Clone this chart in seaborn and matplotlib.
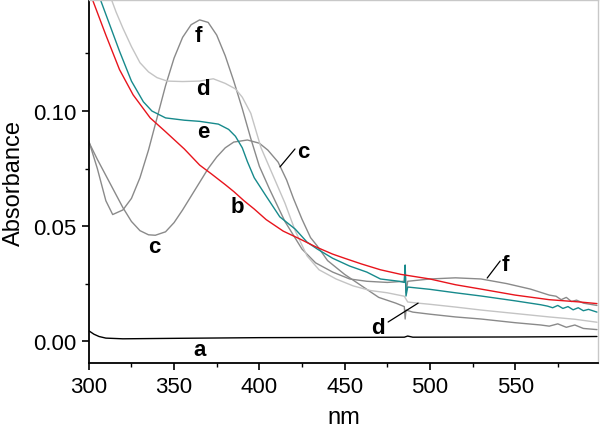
import numpy as np
import pandas as pd
import matplotlib
matplotlib.use("Agg")
import matplotlib.pyplot as plt
from matplotlib.ticker import MultipleLocator
import seaborn as sns

# spectra (wavelength nm, absorbance)
a_nm = [300, 303, 306, 310, 320, 350, 400, 450, 485, 487, 490, 550, 598]
a_abs = [0.0045, 0.003, 0.002, 0.0013, 0.001, 0.0012, 0.0015, 0.0016, 0.0017, 0.0022, 0.0017, 0.0018, 0.002]

b_nm = [300, 302, 310, 318, 326, 336, 345, 356, 365, 372, 380, 385, 391, 397, 404, 414, 424,
        433, 443, 450, 460, 471, 483, 500, 515, 530, 550, 570, 588, 598]
b_abs = [0.152, 0.1487, 0.133, 0.118, 0.107, 0.097, 0.091, 0.0835, 0.0765, 0.0726, 0.068, 0.065,
         0.061, 0.0574, 0.0528, 0.0478, 0.0443, 0.041, 0.0378, 0.036, 0.0335, 0.031, 0.029,
         0.027, 0.0245, 0.0226, 0.020, 0.018, 0.017, 0.0163]

c_nm = [300, 305, 310, 315, 320, 325, 330, 335, 339, 345, 350, 355, 360, 365, 370, 375, 380,
        385, 393, 400, 405, 411, 416, 420, 425, 430, 434, 440, 450, 460, 470, 480, 485, 485.5,
        486, 490, 500, 515, 530, 550, 565, 570, 575, 580, 585, 590, 598]
c_abs = [0.0865, 0.079, 0.072, 0.065, 0.058, 0.052, 0.048, 0.0462, 0.046, 0.0475, 0.0515,
         0.057, 0.063, 0.069, 0.075, 0.080, 0.084, 0.0865, 0.0874, 0.086, 0.083, 0.0778, 0.070,
         0.062, 0.053, 0.045, 0.0413, 0.035, 0.029, 0.024, 0.019, 0.0165, 0.015, 0.0096, 0.0135,
         0.0126, 0.0117, 0.0105, 0.0096, 0.008, 0.007, 0.0065, 0.0075, 0.006, 0.007, 0.0055, 0.005]

d_nm = [311, 313, 316, 320, 325, 330, 335, 340, 346, 355, 365, 373, 380, 386, 390, 395, 401, 408,
        415, 421, 428, 435, 445, 455, 465, 475, 485, 487, 493, 500, 515, 530, 550, 570, 585, 598]
d_abs = [0.152, 0.149, 0.143, 0.136, 0.128, 0.121, 0.117, 0.1145, 0.113, 0.1128, 0.113, 0.114,
         0.112, 0.1096, 0.106, 0.099, 0.084, 0.072, 0.060, 0.048, 0.037, 0.031, 0.027, 0.024,
         0.022, 0.021, 0.0195, 0.017, 0.0165, 0.016, 0.0148, 0.0135, 0.012, 0.0105, 0.0095, 0.0082]

e_nm = [305, 306.5, 312, 318, 325, 332, 337, 345, 356, 365, 376, 382, 386, 390, 393, 397, 404,
        412, 421, 428, 434, 443, 453, 463, 471, 482, 485, 485.5, 486, 487, 500, 515, 530, 550,
        565, 569, 572, 575, 578, 581, 584, 587, 590, 593, 598]
e_abs = [0.153, 0.149, 0.138, 0.126, 0.113, 0.104, 0.100, 0.097, 0.096, 0.0955, 0.0943, 0.092,
         0.089, 0.084, 0.078, 0.071, 0.063, 0.054, 0.0487, 0.043, 0.040, 0.036, 0.0326, 0.030,
         0.027, 0.026, 0.0255, 0.033, 0.0196, 0.0235, 0.0225, 0.021, 0.0196, 0.0175, 0.0158,
         0.0152, 0.0145, 0.0155, 0.0142, 0.0150, 0.0136, 0.0145, 0.0132, 0.0138, 0.0126]

f_nm = [300, 305, 310, 314, 320, 325, 330, 335, 340, 345, 350, 355, 360, 365, 370, 375, 380,
        385, 390, 395, 400, 406, 415, 425, 433, 443, 453, 463, 475, 485, 485.5, 486, 487, 500,
        515, 530, 545, 559, 570, 574, 577, 580, 583, 586, 590, 598]
f_abs = [0.087, 0.075, 0.061, 0.055, 0.057, 0.062, 0.071, 0.083, 0.097, 0.111, 0.123, 0.132,
         0.1375, 0.1396, 0.1385, 0.133, 0.124, 0.113, 0.101, 0.088, 0.076, 0.066, 0.052, 0.040,
         0.034, 0.030, 0.027, 0.026, 0.0255, 0.026, 0.033, 0.021, 0.026, 0.027, 0.0275, 0.027,
         0.025, 0.0226, 0.020, 0.0195, 0.018, 0.019, 0.0172, 0.0178, 0.0165, 0.0155]

series = [
    (a_nm, a_abs, "black"),
    (c_nm, c_abs, "#8a8a8a"),
    (f_nm, f_abs, "#8a8a8a"),
    (d_nm, d_abs, "#c4c4c4"),
    (e_nm, e_abs, "#178a8c"),
    (b_nm, b_abs, "#e8141c"),
]

sns.set_style("ticks")
plt.rcParams["font.family"] = ["Liberation Sans", "DejaVu Sans"]
plt.rcParams["text.color"] = "black"
plt.rcParams["axes.labelcolor"] = "black"
plt.rcParams["xtick.color"] = "black"
plt.rcParams["ytick.color"] = "black"

fig = plt.figure(figsize=(6, 4.31), dpi=100)
ax = fig.add_axes([0.148, 0.155, 0.849, 0.843])

for x, y, col in series:
    sns.lineplot(x=x, y=y, ax=ax, color=col, linewidth=1.0, sort=False, estimator=None)

ax.set_xlim(300, 598.7)
ax.set_ylim(-0.0096, 0.1483)
ax.xaxis.set_minor_locator(MultipleLocator(25))
ax.yaxis.set_minor_locator(MultipleLocator(0.025))
ax.set_xticks([300, 350, 400, 450, 500, 550])
ax.set_xticklabels(["300", "350", "400", "450", "500", "550"])
ax.set_yticks([0.0, 0.05, 0.10])
ax.set_yticklabels(["0.00", "0.05", "0.10"])
ax.tick_params(which="major", direction="out", length=5, width=1.2, labelsize=16, pad=4)
ax.tick_params(which="minor", direction="out", length=3, width=1.0)

for s in ["left", "bottom"]:
    ax.spines[s].set_color("black")
    ax.spines[s].set_linewidth(1.3)
for s in ["top", "right"]:
    ax.spines[s].set_color("#c8c8c8")
    ax.spines[s].set_linewidth(1.0)

ax.set_xlabel("nm", fontsize=17, labelpad=7)
ax.set_ylabel("Absorbance", fontsize=17, labelpad=6)

labels = [
    ("f", 364, 0.1326), ("d", 366.9, 0.1096), ("e", 366.9, 0.0909),
    ("b", 386.9, 0.0583), ("c", 425.6, 0.0822), ("c", 338.7, 0.0409),
    ("a", 365, -0.0035), ("d", 469.6, 0.0061), ("f", 544, 0.0335),
]
for t, x, y in labels:
    ax.text(x, y, t, fontsize=16, fontweight="bold", ha="center", va="center")

leaders = [((412.1, 420.9), (0.0757, 0.0835)),
           ((475.5, 493.1), (0.0083, 0.0165)),
           ((533.6, 541.2), (0.0274, 0.0348))]
for xs, ys in leaders:
    ax.plot(xs, ys, color="black", linewidth=0.9)

fig.savefig("out.png", dpi=100)
